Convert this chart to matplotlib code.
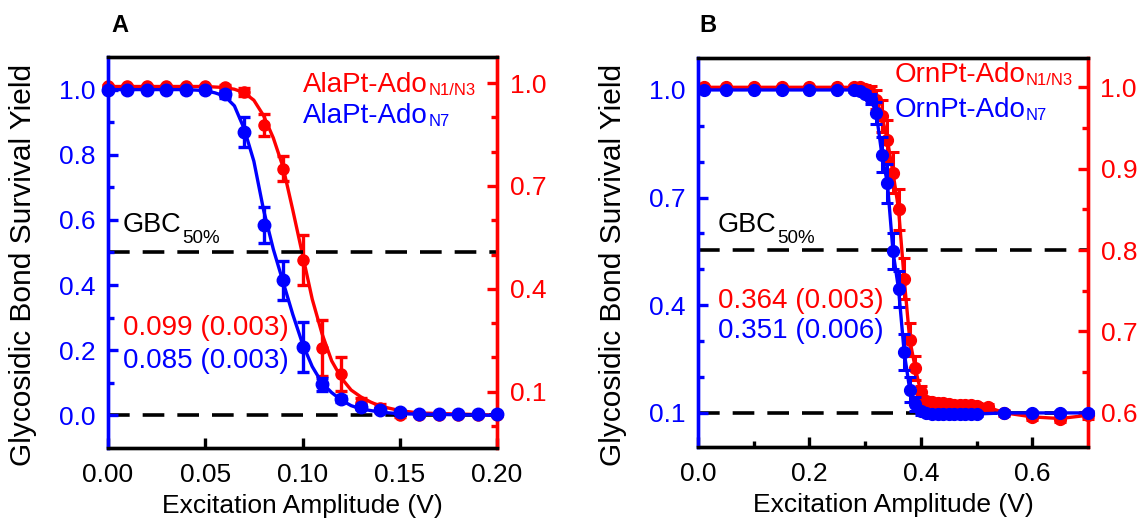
import matplotlib
matplotlib.use("Agg")
import matplotlib.pyplot as plt
from matplotlib.ticker import MultipleLocator, FixedLocator, FormatStrFormatter
from matplotlib.transforms import offset_copy

plt.rcParams['font.family'] = ['Liberation Sans', 'DejaVu Sans']
plt.rcParams['mathtext.default'] = 'regular'

BLUE = '#0000FF'
RED = '#FF0000'

# ---------------- Panel A data ----------------
a_x = [0.00, 0.01, 0.02, 0.03, 0.04, 0.05, 0.06, 0.07, 0.08, 0.09, 0.10,
       0.11, 0.12, 0.13, 0.14, 0.15, 0.16, 0.17, 0.18, 0.19, 0.20]
a_blue = [1.0, 1.0, 1.0, 1.0, 1.0, 1.0, 0.985, 0.87, 0.585, 0.415, 0.21,
          0.095, 0.05, 0.025, 0.018, 0.012, 0.004, 0.003, 0.003, 0.003, 0.003]
a_blue_err = [0.003, 0.003, 0.003, 0.003, 0.003, 0.005, 0.012, 0.046, 0.055, 0.06, 0.077,
              0.02, 0.01, 0.006, 0.005, 0.004, 0.003, 0.003, 0.003, 0.003, 0.003]
a_red = [0.99, 0.99, 0.99, 0.99, 0.99, 0.99, 0.988, 0.974, 0.878, 0.75, 0.484,
         0.227, 0.152, 0.067, 0.052, 0.032, 0.032, 0.032, 0.032, 0.032, 0.032]
a_red_err = [0.003, 0.003, 0.003, 0.003, 0.003, 0.003, 0.006, 0.012, 0.032, 0.036, 0.073,
             0.082, 0.05, 0.015, 0.012, 0.006, 0.004, 0.004, 0.004, 0.004, 0.004]

a_fit_blue_x = [0.0, 0.04, 0.05, 0.055, 0.06, 0.065, 0.07, 0.075, 0.08, 0.085, 0.09,
                0.095, 0.10, 0.105, 0.11, 0.115, 0.12, 0.125, 0.13, 0.14, 0.15, 0.20]
a_fit_blue_y = [1.0, 1.0, 0.997, 0.99, 0.98, 0.95, 0.88, 0.78, 0.63, 0.51, 0.41,
                0.31, 0.22, 0.15, 0.10, 0.07, 0.047, 0.03, 0.02, 0.01, 0.005, 0.0]
a_fit_red_x = [0.0, 0.05, 0.06, 0.065, 0.07, 0.075, 0.08, 0.085, 0.09, 0.095, 0.10,
               0.105, 0.11, 0.115, 0.12, 0.125, 0.13, 0.135, 0.14, 0.15, 0.16, 0.20]
a_fit_red_y = [0.99, 0.99, 0.987, 0.982, 0.972, 0.95, 0.905, 0.84, 0.755, 0.63, 0.50,
               0.37, 0.27, 0.19, 0.14, 0.105, 0.085, 0.07, 0.058, 0.045, 0.038, 0.032]

# ---------------- Panel B data ----------------
b_x = [0.01, 0.05, 0.10, 0.15, 0.20, 0.25, 0.28, 0.29, 0.30, 0.31, 0.32, 0.33,
       0.34, 0.35, 0.36, 0.37, 0.38, 0.39, 0.40, 0.41, 0.42, 0.43, 0.44, 0.45,
       0.46, 0.47, 0.48, 0.49, 0.50, 0.55, 0.60, 0.65, 0.70]
b_blue = [1.0, 1.0, 1.0, 1.0, 1.0, 1.0, 1.0, 0.997, 0.99, 0.975, 0.935, 0.82,
          0.74, 0.55, 0.445, 0.27, 0.165, 0.125, 0.105, 0.1, 0.097, 0.097, 0.096, 0.096,
          0.096, 0.096, 0.096, 0.097, 0.097, 0.1, 0.1, 0.1, 0.1]
b_blue_err = [0.004, 0.004, 0.004, 0.004, 0.004, 0.004, 0.005, 0.006, 0.008, 0.015, 0.03, 0.05,
              0.055, 0.05, 0.05, 0.05, 0.035, 0.02, 0.01, 0.006, 0.005, 0.005, 0.005, 0.005,
              0.005, 0.005, 0.005, 0.005, 0.005, 0.004, 0.004, 0.004, 0.004]
b_red_x = [0.01, 0.05, 0.10, 0.15, 0.20, 0.25, 0.28, 0.29, 0.30, 0.31, 0.32, 0.33,
           0.34, 0.35, 0.36, 0.37, 0.38, 0.39, 0.40, 0.41, 0.42, 0.43, 0.44, 0.45,
           0.46, 0.47, 0.48, 0.49, 0.50, 0.52, 0.55, 0.60, 0.65, 0.70]
b_red = [1.0, 1.0, 1.0, 1.0, 1.0, 1.0, 1.0, 1.0, 0.998, 0.993, 0.985, 0.965,
         0.935, 0.895, 0.85, 0.765, 0.69, 0.655, 0.625, 0.615, 0.613, 0.612, 0.612, 0.611,
         0.61, 0.61, 0.609, 0.609, 0.608, 0.607, 0.60, 0.595, 0.593, 0.597]
b_red_err = [0.002, 0.002, 0.002, 0.002, 0.002, 0.002, 0.003, 0.004, 0.005, 0.008, 0.012, 0.02,
             0.025, 0.025, 0.025, 0.025, 0.02, 0.015, 0.008, 0.005, 0.004, 0.004, 0.004, 0.004,
             0.004, 0.004, 0.004, 0.004, 0.004, 0.004, 0.004, 0.004, 0.004, 0.004]

a_legend = [('AlaPt-Ado', 'N1/N3'), ('AlaPt-Ado', 'N7')]
b_legend = [('OrnPt-Ado', 'N1/N3'), ('OrnPt-Ado', 'N7')]
gbc_label = ('GBC', '50%')
a_values = ['0.099 (0.003)', '0.085 (0.003)']
b_values = ['0.364 (0.003)', '0.351 (0.006)']

W, H = 1144, 524
fig = plt.figure(figsize=(W / 100, H / 100), dpi=100)
renderer = fig.canvas.get_renderer()

SPW = 2.4
TICKFS = 19


def sub_text(ax, x, y, main, sub, color, fs, subfs, drop):
    t = ax.text(x, y, main, transform=ax.transAxes, color=color, fontsize=fs,
                ha='left', va='baseline')
    w_px = t.get_window_extent(renderer).width
    tr = offset_copy(ax.transAxes, fig=fig, x=w_px * 72 / 100 + 0.5, y=-drop, units='points')
    ax.text(x, y, sub, transform=tr, color=color, fontsize=subfs, ha='left', va='baseline')


def style_axes(ax, ax2):
    for a in (ax, ax2):
        for s in a.spines.values():
            s.set_linewidth(SPW)
        a.spines['top'].set_color('black')
        a.spines['bottom'].set_color('black')
        a.spines['left'].set_color(BLUE)
        a.spines['right'].set_color(RED)
    ax.tick_params(axis='y', which='both', direction='in', colors=BLUE, width=SPW,
                   labelsize=TICKFS, pad=9, left=True, right=False)
    ax.tick_params(axis='y', which='major', length=7)
    ax.tick_params(axis='y', which='minor', length=4.5)
    ax.tick_params(axis='x', which='both', direction='in', colors='black', width=SPW,
                   labelsize=TICKFS, pad=11, top=False)
    ax.tick_params(axis='x', which='major', length=7)
    ax.tick_params(axis='x', which='minor', length=4.5)
    ax2.tick_params(axis='y', which='both', direction='in', colors=RED, width=SPW,
                    labelsize=TICKFS, pad=9, right=True, left=False)
    ax2.tick_params(axis='y', which='major', length=7)
    ax2.tick_params(axis='y', which='minor', length=4.5)
    ax.set_zorder(ax2.get_zorder() + 1)
    ax.patch.set_visible(False)


# ---------------- Panel A ----------------
axA = fig.add_axes([108 / W, (H - 448) / H, 389 / W, 391 / H])
axA2 = axA.twinx()
style_axes(axA, axA2)
axA.set_xlim(0, 0.2)
axA.set_ylim(-0.1, 1.1)
axA2.set_ylim(-0.064, 1.076)
axA.xaxis.set_major_locator(MultipleLocator(0.05))
axA.xaxis.set_major_formatter(FormatStrFormatter('%.2f'))
axA.yaxis.set_major_locator(FixedLocator([0.0, 0.2, 0.4, 0.6, 0.8, 1.0]))
axA.yaxis.set_minor_locator(FixedLocator([0.1, 0.3, 0.5, 0.7, 0.9]))
axA.yaxis.set_major_formatter(FormatStrFormatter('%.1f'))
axA2.yaxis.set_major_locator(FixedLocator([0.1, 0.4, 0.7, 1.0]))
axA2.yaxis.set_minor_locator(FixedLocator([0.0, 0.2, 0.3, 0.5, 0.6, 0.8, 0.9]))
axA2.yaxis.set_major_formatter(FormatStrFormatter('%.1f'))

axA.axhline(0.5, color='black', lw=2.6, dashes=(6, 3.6), zorder=1)
axA.axhline(0.0, color='black', lw=2.6, dashes=(6, 3.6), zorder=1)

axA2.plot(a_fit_red_x, a_fit_red_y, color=RED, lw=2.4, zorder=2, clip_on=False)
axA2.errorbar(a_x, a_red, yerr=a_red_err, fmt='o', color=RED, ms=8, ecolor=RED,
              elinewidth=2.4, capsize=4.5, capthick=2.4, zorder=3, clip_on=False)
axA.plot(a_fit_blue_x, a_fit_blue_y, color=BLUE, lw=2.4, zorder=2, clip_on=False)
axA.errorbar(a_x, a_blue, yerr=a_blue_err, fmt='o', color=BLUE, ms=9, ecolor=BLUE,
             elinewidth=2.4, capsize=4.5, capthick=2.4, zorder=3, clip_on=False)

sub_text(axA, 0.501, 0.910, a_legend[0][0], a_legend[0][1], RED, 20, 12, 2)
sub_text(axA, 0.501, 0.831, a_legend[1][0], a_legend[1][1], BLUE, 20, 12, 2)
sub_text(axA, 0.038, 0.552, gbc_label[0], gbc_label[1], 'black', 19.5, 13.5, 8)
axA.text(0.038, 0.289, a_values[0], transform=axA.transAxes, color=RED, fontsize=20,
         ha='left', va='baseline')
axA.text(0.038, 0.205, a_values[1], transform=axA.transAxes, color=BLUE, fontsize=20,
         ha='left', va='baseline')
axA.set_xlabel('Excitation Amplitude (V)', fontsize=19)
axA.set_ylabel('Glycosidic Bond Survival Yield', fontsize=21.5)
axA.yaxis.set_label_coords(-0.183, 0.468)
axA.xaxis.set_label_coords(0.5, -0.118)
fig.text(120 / W, 1 - 26 / H, 'A', fontsize=17, fontweight='bold', ha='center', va='center')

# ---------------- Panel B ----------------
axB = fig.add_axes([698 / W, (H - 447) / H, 390 / W, 389 / H])
axB2 = axB.twinx()
style_axes(axB, axB2)
axB.set_xlim(0, 0.7)
axB.set_ylim(0.005, 1.089)
axB2.set_ylim(0.558, 1.036)
axB.xaxis.set_major_locator(FixedLocator([0.0, 0.2, 0.4, 0.6]))
axB.xaxis.set_minor_locator(FixedLocator([0.1, 0.3, 0.5]))
axB.xaxis.set_major_formatter(FormatStrFormatter('%.1f'))
axB.yaxis.set_major_locator(FixedLocator([0.1, 0.4, 0.7, 1.0]))
axB.yaxis.set_minor_locator(FixedLocator([0.2, 0.3, 0.5, 0.6, 0.8, 0.9]))
axB.yaxis.set_major_formatter(FormatStrFormatter('%.1f'))
axB2.yaxis.set_major_locator(FixedLocator([0.6, 0.7, 0.8, 0.9, 1.0]))
axB2.yaxis.set_minor_locator(FixedLocator([0.65, 0.75, 0.85, 0.95]))
axB2.yaxis.set_major_formatter(FormatStrFormatter('%.1f'))

axB2.axhline(0.8, color='black', lw=2.6, dashes=(6, 3.6), zorder=1)
axB2.axhline(0.6, color='black', lw=2.6, dashes=(6, 3.6), zorder=1)

axB2.errorbar(b_red_x, b_red, yerr=b_red_err, fmt='-o', color=RED, ms=8.5, lw=2.4,
              ecolor=RED, elinewidth=2.2, capsize=4, capthick=2.2, zorder=3, clip_on=False)
axB.errorbar(b_x, b_blue, yerr=b_blue_err, fmt='-o', color=BLUE, ms=8.5, lw=2.4,
             ecolor=BLUE, elinewidth=2.2, capsize=4, capthick=2.2, zorder=3, clip_on=False)

sub_text(axB, 0.503, 0.938, b_legend[0][0], b_legend[0][1], RED, 20, 12, 2)
sub_text(axB, 0.503, 0.848, b_legend[1][0], b_legend[1][1], BLUE, 20, 12, 2)
sub_text(axB, 0.051, 0.553, gbc_label[0], gbc_label[1], 'black', 19.5, 13.5, 8)
axB.text(0.051, 0.357, b_values[0], transform=axB.transAxes, color=RED, fontsize=20,
         ha='left', va='baseline')
axB.text(0.051, 0.280, b_values[1], transform=axB.transAxes, color=BLUE, fontsize=20,
         ha='left', va='baseline')
axB.set_xlabel('Excitation Amplitude (V)', fontsize=19)
axB.set_ylabel('Glycosidic Bond Survival Yield', fontsize=21.5)
axB.yaxis.set_label_coords(-0.182, 0.468)
axB.xaxis.set_label_coords(0.5, -0.118)
fig.text(708 / W, 1 - 26 / H, 'B', fontsize=17, fontweight='bold', ha='center', va='center')

fig.savefig('out.png', dpi=100)
